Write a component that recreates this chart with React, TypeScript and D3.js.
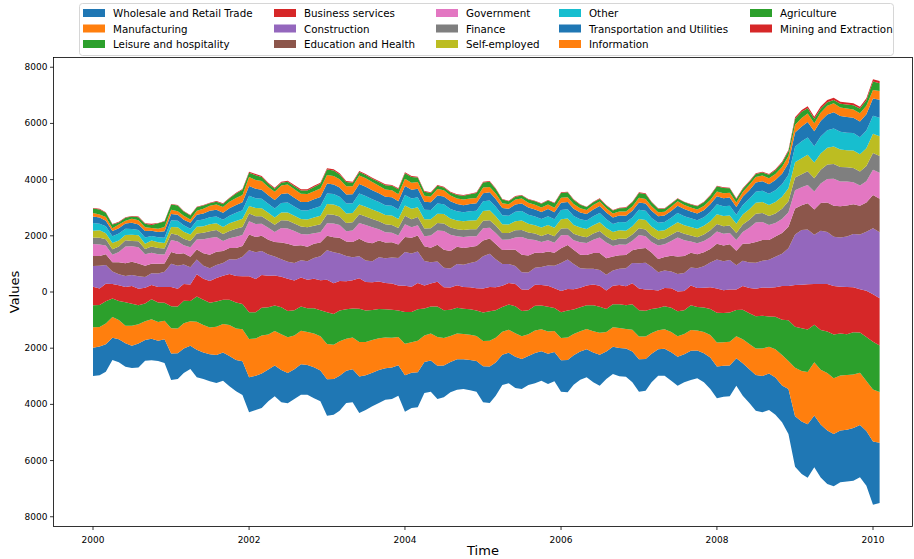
import React from "react";
import * as d3 from "d3";

const seriesNames = [
  "Wholesale and Retail Trade",
  "Manufacturing",
  "Leisure and hospitality",
  "Business services",
  "Construction",
  "Education and Health",
  "Government",
  "Finance",
  "Self-employed",
  "Other",
  "Transportation and Utilities",
  "Information",
  "Agriculture",
  "Mining and Extraction",
];

const colors = [
  "#1f77b4", "#ff7f0e", "#2ca02c", "#d62728", "#9467bd", "#8c564b", "#e377c2",
  "#7f7f7f", "#bcbd22", "#17becf", "#1f77b4", "#ff7f0e", "#2ca02c", "#d62728",
];

// monthly values, Jan 2000 .. Feb 2010
const wholesale = [
  1000,1023,983,793,821,837,792,853,739,760,715,850,
  940,920,870,830,980,940,960,1000,1000,1080,1120,1200,
  1250,1220,1230,1130,1100,1150,1080,1060,1080,1060,1110,1100,
  1300,1270,1240,1150,1180,1300,1240,1200,1180,1120,1120,1080,
  1300,1260,1250,1100,1110,1180,1130,1080,1080,1060,1080,1090,
  1280,1300,1180,1080,1090,1110,1070,1030,1080,1050,1080,1040,
  1120,1150,1050,1000,1000,1060,1100,980,970,1010,1000,1100,
  1150,1130,1020,940,960,1010,1030,1000,1040,990,1040,1120,
  1130,1100,1100,980,1150,1200,1270,1290,1300,1320,1310,1600,
  1800,1870,1900,1840,1880,1900,1860,1850,1840,1880,1860,1950,
  2250,2150,
];
const manufacturing = [
  734,694,739,736,685,621,708,685,667,693,672,653,
  900,880,900,870,1000,980,960,1000,1020,1100,1120,1140,
  1360,1330,1350,1250,1230,1270,1270,1200,1200,1170,1200,1220,
  1250,1220,1230,1140,1130,1230,1180,1160,1130,1090,1060,1010,
  1120,1080,1120,950,960,1030,980,930,920,900,900,890,
  900,920,880,820,820,840,810,780,800,780,790,750,
  790,800,750,720,720,760,780,690,690,710,700,770,
  810,800,740,680,690,720,730,720,740,710,750,800,
  860,840,840,780,860,900,940,980,950,1010,1090,1000,
  1720,1800,1860,1900,1950,2050,1990,1950,1950,1900,1860,1780,
  1850,1800,
];
const leisure = [
  782,779,789,658,675,833,786,675,636,720,694,639,
  790,780,800,720,900,900,880,900,860,900,920,900,
  950,930,990,970,900,960,940,900,860,850,900,920,
  1130,1090,1100,1050,1030,1180,1120,1070,1040,1010,1000,940,
  1130,1080,1120,960,960,1080,990,930,920,900,910,910,
  1020,1050,980,880,900,960,900,850,880,850,880,820,
  920,960,880,860,850,920,930,820,820,850,840,910,
  940,920,850,790,820,870,890,850,880,840,870,930,
  1060,1040,1040,930,1050,1100,1150,1170,1080,1160,1250,1450,
  1460,1520,1520,1330,1420,1480,1560,1500,1450,1500,1440,1560,
  1700,1660,
];
const business = [
  655,587,623,517,561,545,636,584,559,504,547,564,
  681,634,600,585,794,749,772,835,852,921,944,984,
  1288,1182,1168,1120,1071,1089,1147,1057,1032,1008,1046,1072,
  1157,1099,1044,991,1003,1089,1018,991,978,932,928,888,
  930,898,938,813,817,883,816,792,794,767,780,788,
  853,862,817,750,757,792,759,727,750,728,749,706,
  751,767,714,690,696,740,749,664,663,680,675,745,
  769,755,688,625,653,691,705,686,708,676,710,772,
  862,808,824,736,846,898,982,1008,1020,1050,1202,1216,
  1488,1549,1603,1457,1633,1690,1722,1666,1681,1603,1538,1652,
  1690,1677,
];
const construction = [
  745,812,669,447,397,389,384,446,386,417,482,540,
  830,820,690,620,520,460,450,470,460,520,590,700,
  920,950,850,760,680,620,600,620,610,660,740,850,
  1050,1100,980,900,820,780,760,740,860,880,930,980,
  1200,1180,1120,880,760,720,700,680,760,800,860,960,
  1150,1180,1000,780,680,640,620,620,600,640,720,800,
  1000,1050,900,700,600,560,560,560,540,580,640,720,
  900,950,820,650,620,600,620,640,640,700,760,880,
  1030,1030,1050,860,900,900,920,950,1000,1080,1150,1350,
  1800,1950,1950,1750,1900,1850,1750,1750,1800,1900,1950,2100,
  2350,2350,
];
const education = [
  353,349,381,329,423,452,478,450,398,339,351,293,
  420,420,400,370,360,450,480,470,420,400,410,380,
  560,550,540,520,510,600,640,620,540,520,510,490,
  520,540,560,520,540,620,660,640,600,560,540,480,
  540,560,570,520,520,600,640,620,610,590,570,550,
  560,540,540,500,510,580,620,600,540,500,500,460,
  520,520,510,480,490,560,600,580,500,480,480,460,
  520,520,500,470,480,560,620,600,520,500,500,480,
  560,560,560,520,600,680,740,740,700,720,740,760,
  925,875,940,900,980,1050,1105,1110,1100,1060,1020,1040,
  1180,1200,
];
const government = [
  430,409,311,269,370,603,545,583,408,391,337,325,
  420,440,290,340,350,500,600,520,360,350,400,390,
  470,455,432,429,359,520,549,519,400,432,369,370,
  444,485,454,365,416,567,606,574,400,370,340,320,
  455,374,364,361,434,505,666,576,375,395,385,340,
  433,387,397,360,365,440,635,585,450,386,399,360,
  463,357,334,444,424,474,559,562,369,386,363,335,
  487,419,376,475,455,523,675,560,400,390,400,420,
  433,420,400,380,420,560,700,640,540,480,500,520,
  650,640,650,640,700,840,960,880,850,780,720,760,
  900,920,
];
const finance = [
  228,240,226,197,195,216,190,213,187,224,226,212,
  230,235,225,220,215,230,240,250,250,260,280,290,
  280,280,270,260,260,270,280,270,260,260,270,280,
  320,310,300,290,290,310,300,290,280,280,280,270,
  300,290,290,270,260,270,270,260,250,250,250,250,
  270,270,260,240,230,250,250,240,230,220,230,230,
  240,240,230,220,210,220,230,220,210,210,210,220,
  240,240,230,220,210,220,230,230,220,220,230,250,
  270,270,270,250,270,290,310,320,320,340,360,390,
  450,470,490,470,490,510,530,520,510,510,500,540,
  600,600,
];
const selfEmployed = [
  239,262,213,218,206,188,222,216,190,211,202,195,
  240,270,250,230,240,230,250,240,250,270,280,290,
  270,290,280,270,260,280,290,280,270,280,290,300,
  360,370,350,340,330,350,350,340,330,330,330,320,
  360,370,350,330,320,330,330,320,310,310,310,320,
  340,350,330,310,300,320,330,310,300,300,310,300,
  330,340,320,300,290,300,310,300,290,290,290,300,
  330,340,320,300,290,300,320,310,300,300,310,320,
  350,360,350,330,350,370,390,390,390,410,430,460,
  540,570,580,560,580,600,620,620,610,620,610,630,
  680,700,
];
const other = [
  274,232,247,240,254,225,202,187,220,161,176,191,
  240,230,235,210,220,240,250,240,260,270,290,300,
  360,350,340,320,320,340,350,330,310,320,330,340,
  380,370,360,360,350,390,380,370,360,350,350,340,
  380,370,360,340,330,360,350,340,330,320,330,340,
  350,350,340,320,310,340,340,320,310,300,310,300,
  330,330,320,300,300,320,330,310,290,300,300,310,
  330,330,310,290,290,310,330,320,310,300,310,330,
  350,350,350,320,340,370,390,400,400,420,440,480,
  560,600,620,580,600,620,640,630,620,620,610,630,
  640,660,
];
const transportation = [
  236,223,192,191,190,183,228,198,231,186,186,228,
  220,215,200,210,205,215,230,240,250,270,280,290,
  350,340,320,310,300,320,330,310,300,300,320,330,
  350,340,330,320,320,340,330,320,310,300,300,290,
  320,310,300,280,270,290,280,270,260,250,260,270,
  290,290,280,260,250,260,270,260,250,250,260,250,
  260,260,250,240,230,240,250,240,230,230,230,240,
  260,260,250,230,230,240,250,250,240,240,250,270,
  290,290,290,270,290,310,330,340,340,360,380,420,
  500,530,550,530,550,560,580,560,560,550,560,580,
  620,640,
];
const information = [
  125,112,140,95,131,102,144,143,130,96,117,151,
  150,130,140,120,150,170,180,190,200,230,250,260,
  320,310,310,290,290,300,310,300,290,280,290,300,
  310,300,290,290,280,300,310,290,270,260,250,250,
  260,250,240,220,210,230,220,210,200,200,190,190,
  200,190,190,170,160,180,180,170,170,160,160,160,
  180,170,170,150,150,160,160,150,140,140,150,150,
  170,160,160,150,140,150,160,150,140,140,150,160,
  170,170,170,160,170,190,200,200,210,220,240,250,
  280,300,300,290,300,310,320,310,300,290,290,300,
  300,310,
];
const agriculture = [
  154,173,152,135,73,109,77,110,124,113,192,196,
  190,200,150,140,120,110,90,100,110,120,160,180,
  150,170,140,120,110,100,100,110,120,130,150,170,
  190,200,170,150,130,120,110,120,130,150,160,180,
  190,200,160,140,120,110,100,110,120,140,150,170,
  180,190,160,130,110,100,100,110,120,130,140,160,
  170,180,150,120,100,100,90,100,110,120,130,150,
  170,180,150,120,100,100,90,100,110,120,130,150,
  180,190,160,130,110,110,100,110,120,130,150,170,
  210,220,190,160,140,130,120,130,140,150,170,200,
  300,280,
];
const mining = [
  19,25,17,20,27,13,16,23,25,39,11,20,
  15,20,18,17,22,20,18,25,22,25,28,30,
  40,45,40,35,38,35,40,42,38,40,45,42,
  45,40,42,38,35,40,38,35,36,34,30,32,
  35,38,30,28,25,30,28,26,25,24,25,28,
  28,25,26,22,20,24,22,20,22,20,22,24,
  22,20,20,18,16,18,20,18,16,18,20,22,
  20,22,18,16,18,20,18,16,18,20,22,24,
  25,26,24,22,24,26,28,30,32,34,38,44,
  55,65,70,72,75,78,80,75,72,70,68,70,
  80,80,
];

const seriesValues = [
  wholesale, manufacturing, leisure, business, construction, education, government,
  finance, selfEmployed, other, transportation, information, agriculture, mining,
];

const xTickYears = [2000, 2002, 2004, 2006, 2008, 2010];
const yTickValues = [-8000, -6000, -4000, -2000, 0, 2000, 4000, 6000, 8000];

const dates = d3.timeMonths(new Date(2000, 0, 1), new Date(2010, 2, 1));

type Row = { date: Date; [k: string]: number | Date };
const rows: Row[] = dates.map((date, i) => {
  const r: Row = { date };
  seriesNames.forEach((name, j) => {
    r[name] = seriesValues[j][i];
  });
  return r;
});

const W = 914;
const H = 559;
const plotLeft = 53.5;
const plotRight = 912.5;
const plotTop = 57.5;
const plotBottom = 526.5;
const font = "DejaVu Sans, sans-serif";

export default function App() {
  const x = d3
    .scaleTime()
    .domain([new Date(2000, 0, 1), new Date(2010, 0, 1)])
    .range([93, 873]);
  const y = d3.scaleLinear().domain([-8329, 8329]).range([526, 58]);

  const stack = d3
    .stack<Row>()
    .keys(seriesNames)
    .value((d, key) => d[key] as number)
    .order(d3.stackOrderNone)
    .offset(d3.stackOffsetSilhouette);
  const layers = stack(rows);

  const area = d3
    .area<any>()
    .x((d) => x(d.data.date))
    .y0((d) => y(d[0]))
    .y1((d) => y(d[1]));

  const legendCols = 5;
  const legendRows = 3;
  const colX = [83, 274, 436, 559, 750];
  const rowY = [13, 28.5, 44];

  return (
    <svg width={W} height={H} style={{ display: "block", position: "absolute", left: 0, top: 0 }}>
      <rect x={0} y={0} width={W} height={H} fill="#fff" />
      <defs>
        <clipPath id="plotclip">
          <rect x={plotLeft} y={plotTop} width={plotRight - plotLeft} height={plotBottom - plotTop} />
        </clipPath>
      </defs>
      <g clipPath="url(#plotclip)">
        {layers.map((layer, i) => (
          <path key={seriesNames[i]} d={area(layer) || ""} fill={colors[i]} stroke="none" />
        ))}
      </g>
      <rect
        x={plotLeft}
        y={plotTop}
        width={plotRight - plotLeft}
        height={plotBottom - plotTop}
        fill="none"
        stroke="#000"
        strokeWidth={0.8}
      />
      {xTickYears.map((yr) => {
        const px = x(new Date(yr, 0, 1));
        return (
          <g key={yr}>
            <line x1={px} x2={px} y1={plotBottom} y2={plotBottom + 3.5} stroke="#000" strokeWidth={0.8} />
            <text x={px} y={plotBottom + 16} fontSize={9} fontFamily={font} textAnchor="middle" fill="#000">
              {yr}
            </text>
          </g>
        );
      })}
      {yTickValues.map((v) => {
        const py = y(v);
        return (
          <g key={v}>
            <line x1={plotLeft - 3.5} x2={plotLeft} y1={py} y2={py} stroke="#000" strokeWidth={0.8} />
            <text
              x={plotLeft - 6}
              y={py}
              fontSize={9}
              fontFamily={font}
              textAnchor="end"
              dominantBaseline="central"
              fill="#000"
            >
              {Math.abs(v)}
            </text>
          </g>
        );
      })}
      <text x={(plotLeft + plotRight) / 2} y={555} fontSize={13} fontFamily={font} textAnchor="middle" fill="#000">
        Time
      </text>
      <text
        x={0}
        y={0}
        transform={`translate(19, ${(plotTop + plotBottom) / 2}) rotate(-90)`}
        fontSize={13}
        fontFamily={font}
        textAnchor="middle"
        fill="#000"
      >
        Values
      </text>
      <rect x={79.5} y={3.5} width={814} height={52} rx={3} fill="#fff" fillOpacity={0.8} stroke="#ccc" strokeWidth={0.8} />
      {seriesNames.map((name, i) => {
        const col = Math.floor(i / legendRows);
        const row = i % legendRows;
        if (col >= legendCols) return null;
        return (
          <g key={name}>
            <rect x={colX[col]} y={rowY[row] - 4} width={22} height={8} fill={colors[i]} />
            <text x={colX[col] + 30} y={rowY[row]} fontSize={10.3} fontFamily={font} dominantBaseline="central" fill="#000">
              {name}
            </text>
          </g>
        );
      })}
    </svg>
  );
}
